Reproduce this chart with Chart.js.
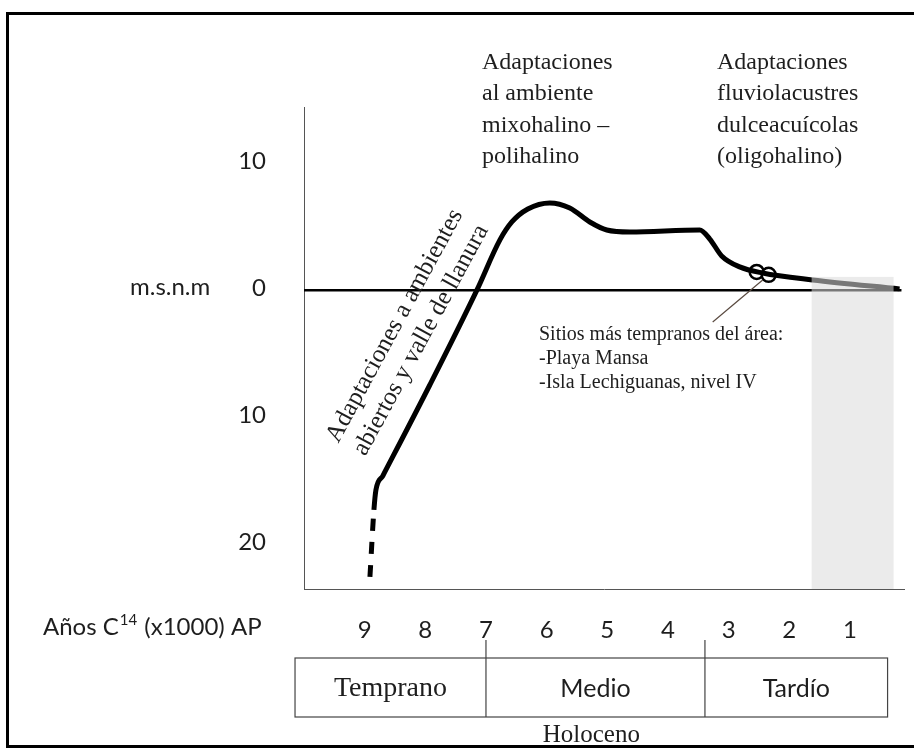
<!DOCTYPE html>
<html>
<head>
<meta charset="utf-8">
<script src="https://cdn.jsdelivr.net/npm/chart.js@4/dist/chart.umd.min.js"></script>
<style>
  html, body { margin: 0; padding: 0; background: #fff; }
  #wrap { width: 914px; height: 748px; position: relative; }
</style>
</head>
<body>
<div id="wrap"><canvas id="c" width="914" height="748"></canvas></div>
<script>
// ---- data (ages in thousands of C14 years BP, levels in m a.s.l.) ----
const ageTicks = [9, 8, 7, 6, 5, 4, 3, 2, 1];
const levelTicks = [10, 0, -10, -20];
const curveAge   = [8.913, 8.847, 8.814, 8.70, 7.924, 7.15, 6.77, 6.573, 6.31, 5.947, 5.618, 5.288, 5.008, 4.63, 3.476, 3.31, 3.114, 2.817, 2.44, 1.615, 0.181];
const curveLevel = [-22.55, -17.28, -15.71, -14.6, -7.44, 0, 3.95, 5.36, 6.38, 6.86, 6.46, 5.36, 4.73, 4.57, 4.73, 4.02, 2.69, 1.83, 1.35, 0.80, 0.10];
const siteAge   = [2.537, 2.34];
const siteLevel = [1.43, 1.2];
const zeroAge   = [10, 0.15];
const zeroLevel = [0, 0];
const periodNames  = ['Temprano', 'Medio', 'Tardío'];
const periodBounds = [10.148, 7, 3.39, 0.379];
const lateBandAge  = [1.631, 0.28];
const lateBandTop  = 1.04;

const SERIF = '"Liberation Serif", "Times New Roman", serif';
const SANS = 'Lato, "Open Sans", sans-serif';
const INK = '#1e1e1e';

const pts = (xs, ys) => xs.map((x, i) => ({ x, y: ys[i] }));

const decor = {
  id: 'decor',
  afterDatasetsDraw(chart) {
    const { ctx, scales: { x, y }, chartArea } = chart;
    ctx.save();
    ctx.fillStyle = 'rgba(218,218,218,0.55)';
    const bx0 = x.getPixelForValue(lateBandAge[0]);
    const bx1 = x.getPixelForValue(lateBandAge[1]);
    const by0 = y.getPixelForValue(lateBandTop);
    ctx.fillRect(bx0, by0, bx1 - bx0, chartArea.bottom - by0);
    ctx.restore();
  },
  afterDraw(chart) {
    const { ctx, scales: { x, y } } = chart;
    ctx.save();
    // outer frame
    ctx.strokeStyle = '#000';
    ctx.lineWidth = 3;
    ctx.strokeRect(7.5, 13.5, 960, 733);

    ctx.fillStyle = INK;
    ctx.textBaseline = 'middle';
    ctx.textAlign = 'left';

    // top annotation blocks
    ctx.font = '24px ' + SERIF;
    const block1 = ['Adaptaciones', 'al ambiente', 'mixohalino –', 'polihalino'];
    const block2 = ['Adaptaciones', 'fluviolacustres', 'dulceacuícolas', '(oligohalino)'];
    const lineY = [63, 94, 126, 157];
    block1.forEach((t, i) => ctx.fillText(t, 482, lineY[i]));
    block2.forEach((t, i) => ctx.fillText(t, 717, lineY[i]));

    // rotated annotation along the rising curve
    ctx.save();
    ctx.translate(408, 333);
    ctx.rotate(-61.5 * Math.PI / 180);
    ctx.textAlign = 'center';
    ctx.font = '25px ' + SERIF;
    ctx.fillText('Adaptaciones a ambientes', 0, -15);
    ctx.fillText('abiertos y valle de llanura', 0, 15);
    ctx.restore();

    // sites note + pointer
    ctx.strokeStyle = '#5a4a40';
    ctx.lineWidth = 1.2;
    ctx.beginPath();
    ctx.moveTo(x.getPixelForValue(2.438), y.getPixelForValue(0.8));
    ctx.lineTo(x.getPixelForValue(3.262), y.getPixelForValue(-2.5));
    ctx.stroke();
    ctx.font = '20px ' + SERIF;
    ctx.fillText('Sitios más tempranos del área:', 539, 335);
    ctx.fillText('-Playa Mansa', 539, 359);
    ctx.fillText('-Isla Lechiguanas, nivel IV', 539, 383);

    // y-axis unit
    ctx.font = '24px ' + SANS;
    ctx.fillText('m.s.n.m', 130, 287);

    // x-axis label with superscript
    ctx.font = '24px ' + SANS;
    let lx = 43;
    const ly = 627;
    ctx.fillText('Años C', lx, ly);
    lx += ctx.measureText('Años C').width;
    ctx.font = '15px ' + SANS;
    ctx.fillText('14', lx + 1, ly - 7);
    lx += ctx.measureText('14').width + 2;
    ctx.font = '24px ' + SANS;
    ctx.fillText(' (x1000) AP', lx, ly);

    // period box
    const top = 658, bot = 717;
    const px = periodBounds.map(v => x.getPixelForValue(v));
    ctx.strokeStyle = '#444';
    ctx.lineWidth = 1.2;
    ctx.strokeRect(px[0], top, px[3] - px[0], bot - top);
    ctx.beginPath();
    [px[1], px[2]].forEach(p => { ctx.moveTo(p, 640); ctx.lineTo(p, bot); });
    ctx.stroke();
    ctx.textAlign = 'center';
    periodNames.forEach((n, i) => {
      ctx.font = (i === 0 ? '28px ' + SERIF : '25px ' + SANS);
      ctx.fillText(n, (px[i] + px[i + 1]) / 2, (top + bot) / 2 + 1);
    });
    ctx.font = '25px ' + SERIF;
    ctx.fillText('Holoceno', (px[0] + px[3]) / 2, 735);
    ctx.restore();
  }
};

new Chart(document.getElementById('c'), {
  type: 'scatter',
  data: {
    datasets: [
      { label: 'nivel 0', data: pts(zeroAge, zeroLevel), showLine: true,
        borderColor: '#000', borderWidth: 2.5, pointRadius: 0 },
      { label: 'nivel del mar', data: pts(curveAge, curveLevel), showLine: true,
        borderColor: '#000', borderWidth: 5, pointRadius: 0,
        cubicInterpolationMode: 'monotone', borderCapStyle: 'butt',
        segment: { borderDash: c => (c.p0DataIndex === 0 ? [12, 11] : undefined) } },
      { label: 'sitios', data: pts(siteAge, siteLevel), showLine: false,
        pointRadius: 7, pointBackgroundColor: '#fff', pointBorderColor: '#000', pointBorderWidth: 2.5 }
    ]
  },
  options: {
    responsive: false, animation: false, events: [],
    layout: { padding: { top: 107, right: 9, left: 0, bottom: 0 } },
    plugins: { legend: { display: false }, tooltip: { enabled: false } },
    scales: {
      x: {
        type: 'linear', reverse: true, min: 0.1, max: 10,
        afterFit(s) { s.height = 159; },
        afterBuildTicks(s) { s.ticks = ageTicks.map(v => ({ value: v })); },
        grid: { display: false },
        border: { display: true, color: '#555', width: 1 },
        ticks: { padding: 19, color: INK, font: { family: SANS, size: 24 }, maxRotation: 0, autoSkip: false }
      },
      y: {
        type: 'linear', min: -23.5, max: 14.4,
        afterFit(s) { s.width = 304; },
        afterBuildTicks(s) { s.ticks = levelTicks.map(v => ({ value: v })); },
        grid: { display: false },
        border: { display: true, color: '#555', width: 1 },
        ticks: { padding: 30, labelOffset: -2, color: INK, font: { family: SANS, size: 24 },
                 callback: v => String(Math.abs(v)) }
      }
    }
  },
  plugins: [decor]
});
</script>
</body>
</html>
